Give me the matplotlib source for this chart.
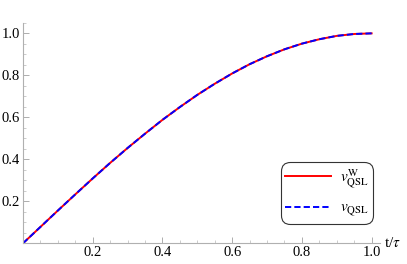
import matplotlib
matplotlib.use("Agg")
import matplotlib.pyplot as plt
from matplotlib.ticker import MultipleLocator

plt.rcParams["font.family"] = ["Liberation Serif", "DejaVu Serif"]
plt.rcParams["mathtext.fontset"] = "stix"

# values
t = [0.0, 0.05, 0.1, 0.15, 0.2, 0.25, 0.3, 0.35, 0.4, 0.45, 0.5,
     0.55, 0.6, 0.65, 0.7, 0.75, 0.8, 0.85, 0.9, 0.95, 1.0]
v_qsl_w = [0.0, 0.078, 0.156, 0.233, 0.309, 0.383, 0.454, 0.522, 0.588, 0.649, 0.707,
           0.760, 0.809, 0.853, 0.891, 0.924, 0.951, 0.972, 0.988, 0.997, 1.0]
v_qsl = [0.0, 0.078, 0.156, 0.233, 0.309, 0.383, 0.454, 0.522, 0.588, 0.649, 0.707,
         0.760, 0.809, 0.853, 0.891, 0.924, 0.951, 0.972, 0.988, 0.997, 1.0]
xticks = [0.2, 0.4, 0.6, 0.8, 1.0]
yticks = [0.2, 0.4, 0.6, 0.8, 1.0]

fig = plt.figure(figsize=(4.07, 2.64), dpi=100)
ax = fig.add_axes([0.0565, 0.0784, 0.878, 0.835])

ax.plot(t, v_qsl_w, color="#ff0000", lw=1.4, label=r"$v_{\mathrm{QSL}}^{\mathrm{W}}$")
ax.plot(t, v_qsl, color="#0000ff", lw=1.4, ls=(0, (3.2, 1.6)), label=r"$v_{\mathrm{QSL}}$")

ax.set_xlim(0, 1.025)
ax.set_ylim(0, 1.05)
ax.set_xticks(xticks)
ax.set_yticks(yticks)
ax.set_xticklabels([f"{v:.1f}" for v in xticks])
ax.set_yticklabels([f"{v:.1f}" for v in yticks])
ax.xaxis.set_minor_locator(MultipleLocator(0.05))
ax.yaxis.set_minor_locator(MultipleLocator(0.05))

for s in ["top", "right"]:
    ax.spines[s].set_visible(False)
for s in ["left", "bottom"]:
    ax.spines[s].set_color("#b0b0b0")
    ax.spines[s].set_linewidth(0.8)

ax.tick_params(which="major", direction="in", length=4, width=0.6, color="#a0a0a0",
               labelsize=10.5, pad=2)
ax.tick_params(which="minor", direction="in", length=2, width=0.5, color="#b8b8b8")

ax.text(1.035, 0.0, r"t/$\tau$", fontsize=11, transform=ax.transData,
        ha="left", va="center")

leg = ax.legend(loc="upper right", bbox_to_anchor=(0.9165, 0.386),
                bbox_transform=fig.transFigure, borderaxespad=0, fontsize=11,
                frameon=True, fancybox=True, handlelength=3.0, handletextpad=0.55,
                labelspacing=0.75, borderpad=0.3)
leg.get_frame().set_edgecolor("#333333")
leg.get_frame().set_linewidth(0.8)
leg.get_frame().set_alpha(1.0)
leg.get_frame().set_boxstyle("round", pad=0, rounding_size=0.6)

fig.savefig("out.png", dpi=100)
